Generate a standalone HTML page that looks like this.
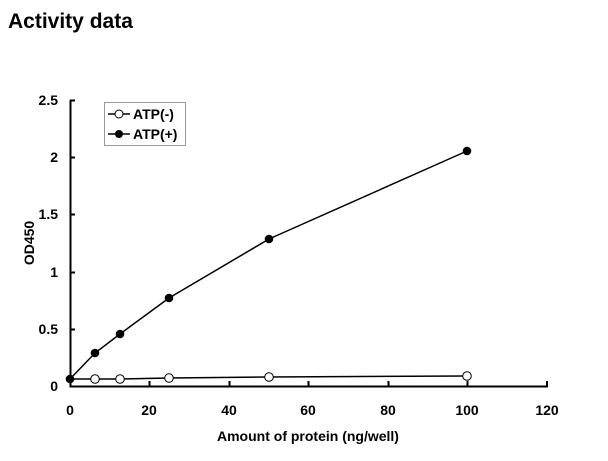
<!DOCTYPE html>
<html><head><style>body{margin:0;background:#fff}svg{display:block}text{font-family:"Liberation Sans",Arial,sans-serif;font-weight:bold}</style></head><body>
<svg width="608" height="461" xmlns="http://www.w3.org/2000/svg">
<text x="8" y="28" font-size="21">Activity data</text>
<g stroke="#000" stroke-width="2" fill="none">
<line x1="70.5" y1="100" x2="70.5" y2="387"/>
<line x1="69.5" y1="386.5" x2="548" y2="386.5"/>
<line x1="70" y1="100.5" x2="75" y2="100.5"/>
<line x1="70" y1="157.5" x2="75" y2="157.5"/>
<line x1="70" y1="214.5" x2="75" y2="214.5"/>
<line x1="70" y1="272.5" x2="75" y2="272.5"/>
<line x1="70" y1="329.5" x2="75" y2="329.5"/>
<line x1="149.5" y1="381" x2="149.5" y2="386"/>
<line x1="229.5" y1="381" x2="229.5" y2="386"/>
<line x1="308.5" y1="381" x2="308.5" y2="386"/>
<line x1="388.5" y1="381" x2="388.5" y2="386"/>
<line x1="467.5" y1="381" x2="467.5" y2="386"/>
<line x1="547" y1="381" x2="547" y2="386"/>
</g>
<g font-size="14" text-anchor="end">
<text x="58" y="105">2.5</text><text x="58" y="162">2</text><text x="58" y="219">1.5</text><text x="58" y="277">1</text><text x="58" y="334">0.5</text><text x="58" y="391">0</text>
</g>
<g font-size="14" text-anchor="middle">
<text x="70" y="415">0</text><text x="149" y="415">20</text><text x="229" y="415">40</text><text x="308" y="415">60</text><text x="388" y="415">80</text><text x="467" y="415">100</text><text x="547" y="415">120</text>
<text x="308" y="441">Amount of protein (ng/well)</text>
<text transform="translate(34,243) rotate(-90)">OD450</text>
</g>
<polyline fill="none" stroke="#000" stroke-width="1.5" points="70,379 95,379 120,379 169,378 269,377 467,376"/>
<polyline fill="none" stroke="#000" stroke-width="1.5" points="70,379 95,353 120,334 169,298 269,239 467,151"/>
<g fill="#fff" stroke="#000" stroke-width="1">
<circle cx="95" cy="379" r="4.3"/><circle cx="120" cy="379" r="4.3"/><circle cx="169" cy="378" r="4.3"/><circle cx="269" cy="377" r="4.3"/><circle cx="467" cy="376" r="4.3"/>
</g>
<g fill="#000">
<circle cx="70" cy="379" r="4.3"/><circle cx="95" cy="353" r="4.3"/><circle cx="120" cy="334" r="4.3"/><circle cx="169" cy="298" r="4.3"/><circle cx="269" cy="239" r="4.3"/><circle cx="467" cy="151" r="4.3"/>
</g>
<rect x="104.5" y="102.5" width="81" height="43" fill="#fff" stroke="#999" stroke-width="1"/>
<line x1="108" y1="114" x2="130" y2="114" stroke="#000" stroke-width="1.5"/>
<circle cx="119" cy="114" r="4" fill="#fff" stroke="#000"/>
<line x1="108" y1="134" x2="130" y2="134" stroke="#000" stroke-width="1.5"/>
<circle cx="119" cy="134" r="4" fill="#000"/>
<text x="133" y="119" font-size="14">ATP(-)</text>
<text x="133" y="139" font-size="14">ATP(+)</text>
</svg>
</body></html>
